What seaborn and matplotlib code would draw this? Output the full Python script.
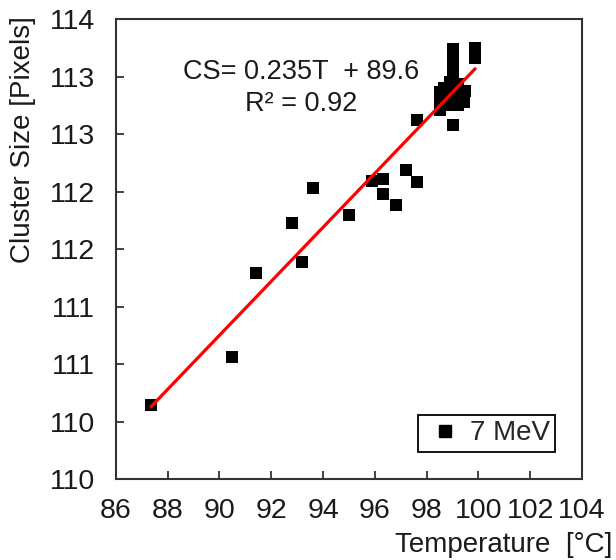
import numpy as np
import pandas as pd
import matplotlib
matplotlib.use("Agg")
import matplotlib.pyplot as plt
import seaborn as sns
from matplotlib.ticker import FuncFormatter, MultipleLocator
from matplotlib.lines import Line2D

# temperature [oC] and cluster size [pixels]
temperature = [87.36, 90.49, 91.41, 92.81, 93.20, 93.62, 94.99, 95.87, 96.33, 96.30,
               96.81, 97.20, 97.64, 97.61, 98.51, 98.51, 98.51, 98.70, 99.03, 99.03,
               99.03, 99.03, 99.03, 99.20, 99.41, 99.48, 99.87, 99.87, 99.87,
               98.65, 98.90, 99.10, 99.30, 98.85, 99.00, 99.20, 99.45]
cluster_size = [110.14, 110.56, 111.29, 111.73, 111.39, 112.03, 111.80, 112.09, 112.11, 111.98,
                111.88, 112.19, 112.08, 112.62, 112.87, 112.80, 112.71, 112.82, 113.24, 113.14,
                113.09, 113.00, 112.58, 112.94, 112.80, 112.88, 113.25, 113.20, 113.16,
                112.90, 112.95, 112.90, 112.85, 112.75, 112.80, 112.75, 112.78]
series_label = "7 MeV"

# trendline as printed on the chart
slope = 0.235
intercept = 89.6
eq_text = "CS= 0.235T  + 89.6"
r2_text = "R² = 0.92"

df = pd.DataFrame({"T": temperature, "CS": cluster_size})
t_fit = np.array([df["T"].min(), df["T"].max()])
fit = pd.DataFrame({"T": t_fit, "CS": slope * t_fit + intercept})

sns.set_style("ticks")
plt.rcParams["font.family"] = ["Liberation Sans", "DejaVu Sans"]

fig = plt.figure(figsize=(6.16, 5.6), dpi=100)
ax = fig.add_axes([0.188, 0.1446, 0.757, 0.821])

sns.scatterplot(data=df, x="T", y="CS", marker="s", color="black", s=85,
                edgecolor="black", linewidth=0, ax=ax, zorder=2)
sns.lineplot(data=fit, x="T", y="CS", color="#ff0000", linewidth=2.3, ax=ax, zorder=3)

ax.set_xlim(86, 104)
ax.set_ylim(109.5, 113.5)
ax.xaxis.set_major_locator(MultipleLocator(2))
ax.yaxis.set_major_locator(MultipleLocator(0.5))
# Excel-style 0-decimal labels (round half up)
ax.yaxis.set_major_formatter(FuncFormatter(lambda v, p: str(int(np.floor(v + 0.5)))))

ax.tick_params(axis="both", direction="in", length=6, width=1.2, colors="#222222",
               labelsize=20.5, labelcolor="#1a1a1a")
ax.tick_params(axis="x", pad=14)
ax.tick_params(axis="y", pad=15)
for sp in ax.spines.values():
    sp.set_linewidth(1.5)
    sp.set_color("#333333")

ax.set_xlabel("Temperature  [°C]", fontsize=20, color="#1a1a1a", ha="right", va="center")
ax.xaxis.set_label_coords(1.065, -0.143)
ax.set_ylabel("Cluster Size [Pixels]", fontsize=20, color="#1a1a1a", ha="center", va="center")
ax.yaxis.set_label_coords(-0.2, 0.739)

ax.text(0.397, 0.885, eq_text, transform=ax.transAxes, ha="center", va="center",
        fontsize=19.5, color="#1a1a1a")
ax.text(0.397, 0.815, r2_text, transform=ax.transAxes, ha="center", va="center",
        fontsize=19.5, color="#1a1a1a")

handle = Line2D([], [], marker="s", color="black", linestyle="none", markersize=9)
leg = ax.legend([handle], [series_label], loc="lower right", bbox_to_anchor=(0.942, 0.0587),
                borderaxespad=0, fontsize=20, frameon=True, fancybox=False, framealpha=1,
                edgecolor="black", handlelength=1.5, handletextpad=0.15, borderpad=0.2)
leg.get_frame().set_linewidth(1.3)

fig.savefig("out.png", dpi=100)
